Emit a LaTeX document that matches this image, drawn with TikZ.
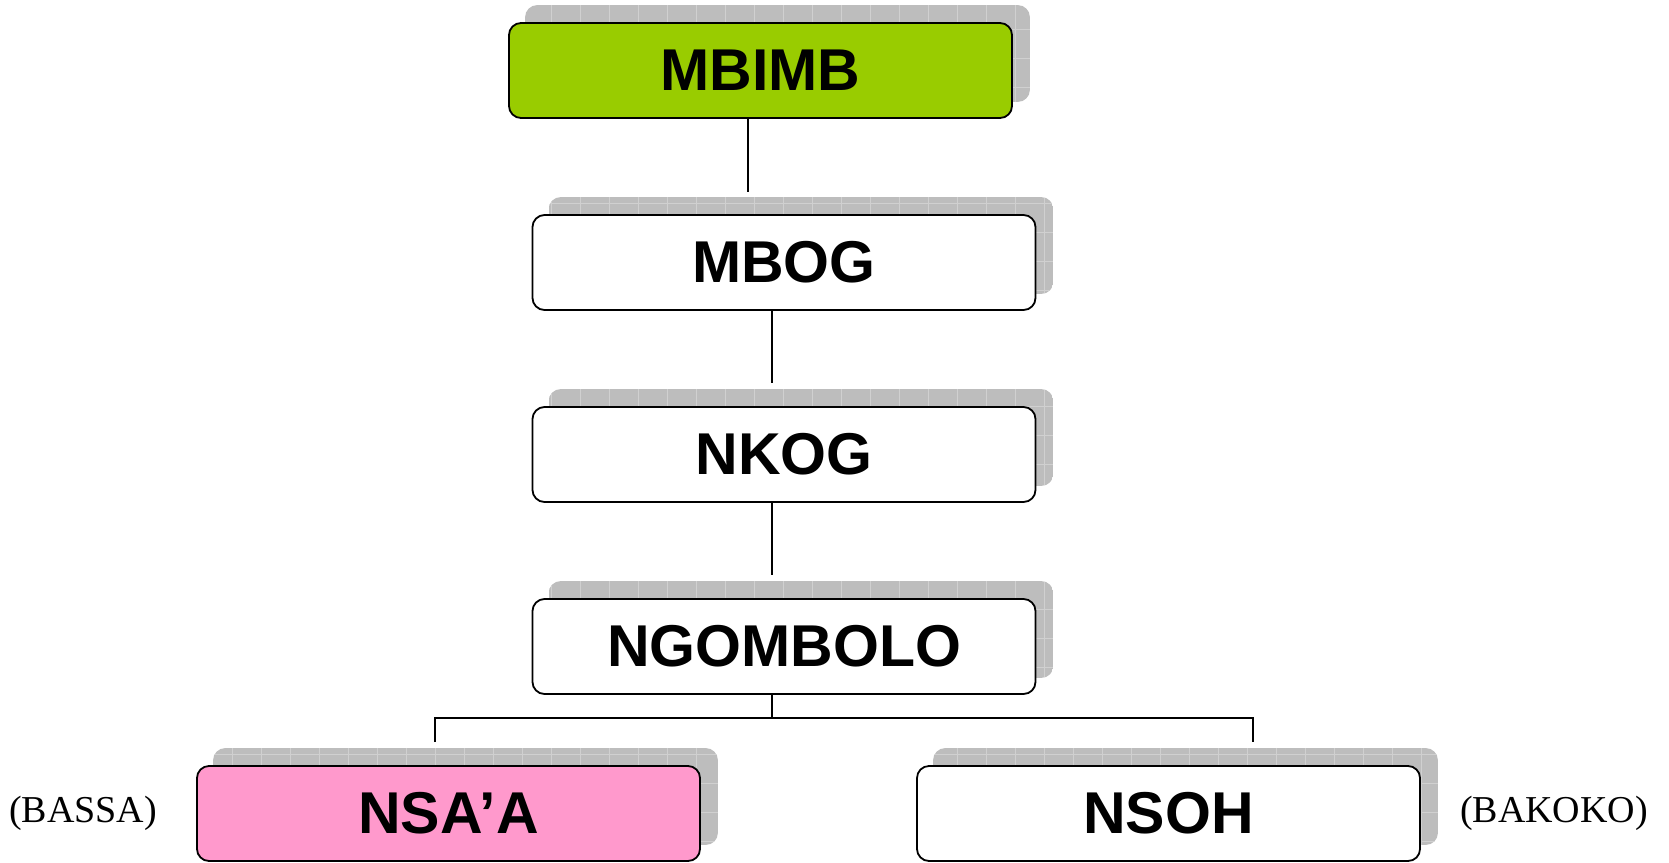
\documentclass[tikz,border=0pt]{standalone}
\usepackage{fontspec}
\setmainfont{Liberation Serif}
\newfontfamily\decofont{Liberation Sans}
\usetikzlibrary{backgrounds}
\definecolor{mbgreen}{HTML}{99CC00}
\definecolor{mbpink}{HTML}{FF99CC}
\definecolor{shadowgray}{HTML}{BDBDBD}
\definecolor{gridgray}{HTML}{D0D0D0}
\tikzset{
  clan/.style={draw, line width=1.8pt, rounded corners=12pt, fill=white,
    minimum width=503pt, minimum height=95pt, inner sep=0pt,
    font=\decofont\bfseries\fontsize{59}{60}\selectfont},
  link/.style={line width=1.5pt},
  side/.style={font=\fontsize{38}{42}\selectfont, inner sep=0pt},
}
\newcommand\shadowof[1]{%
  \begin{scope}[on background layer]
    \coordinate (sa) at ([shift={(17pt,17pt)}]#1.south west);
    \coordinate (sb) at ([shift={(17pt,17pt)}]#1.north east);
    \begin{scope}
      \clip[rounded corners=12pt] (sa) rectangle (sb);
      \fill[shadowgray] (sa) rectangle (sb);
      \draw[gridgray, line width=0.8pt, step=29pt] (sa) grid (sb);
    \end{scope}
  \end{scope}}
\begin{document}
\begin{tikzpicture}[x=1pt, y=-1pt]
\useasboundingbox (0,0) rectangle (1669,862);
\node[clan, fill=mbgreen] (mbimb) at (760.5,70.5) {MBIMB};
\shadowof{mbimb}
\node[clan] (mbog) at (784,262.5) {MBOG};
\shadowof{mbog}
\node[clan] (nkog) at (784,454.5) {NKOG};
\shadowof{nkog}
\node[clan] (ngombolo) at (784,646.5) {NGOMBOLO};
\shadowof{ngombolo}
\node[clan, fill=mbpink] (nsaa) at (448.5,813.5) {NSA’A};
\shadowof{nsaa}
\node[clan] (nsoh) at (1168.5,813.5) {NSOH};
\shadowof{nsoh}
\node[side] (bassa) at (83,813) {(BASSA)};
\node[side] (bakoko) at (1554,813) {(BAKOKO)};
\coordinate (c1) at (748,192);
\coordinate (c2) at (772,383);
\coordinate (c3) at (772,575);
\coordinate (fork) at (772,718);
\coordinate (l1) at (435,742);
\coordinate (r1) at (1253,742);
\draw[link] (mbimb.south -| c1) -- (c1);
\draw[link] (mbog.south -| c2) -- (c2);
\draw[link] (nkog.south -| c3) -- (c3);
\draw[link] (ngombolo.south -| fork) -- (fork);
\draw[link] (l1) -- (l1 |- fork) -- (r1 |- fork) -- (r1);
\end{tikzpicture}
\end{document}
